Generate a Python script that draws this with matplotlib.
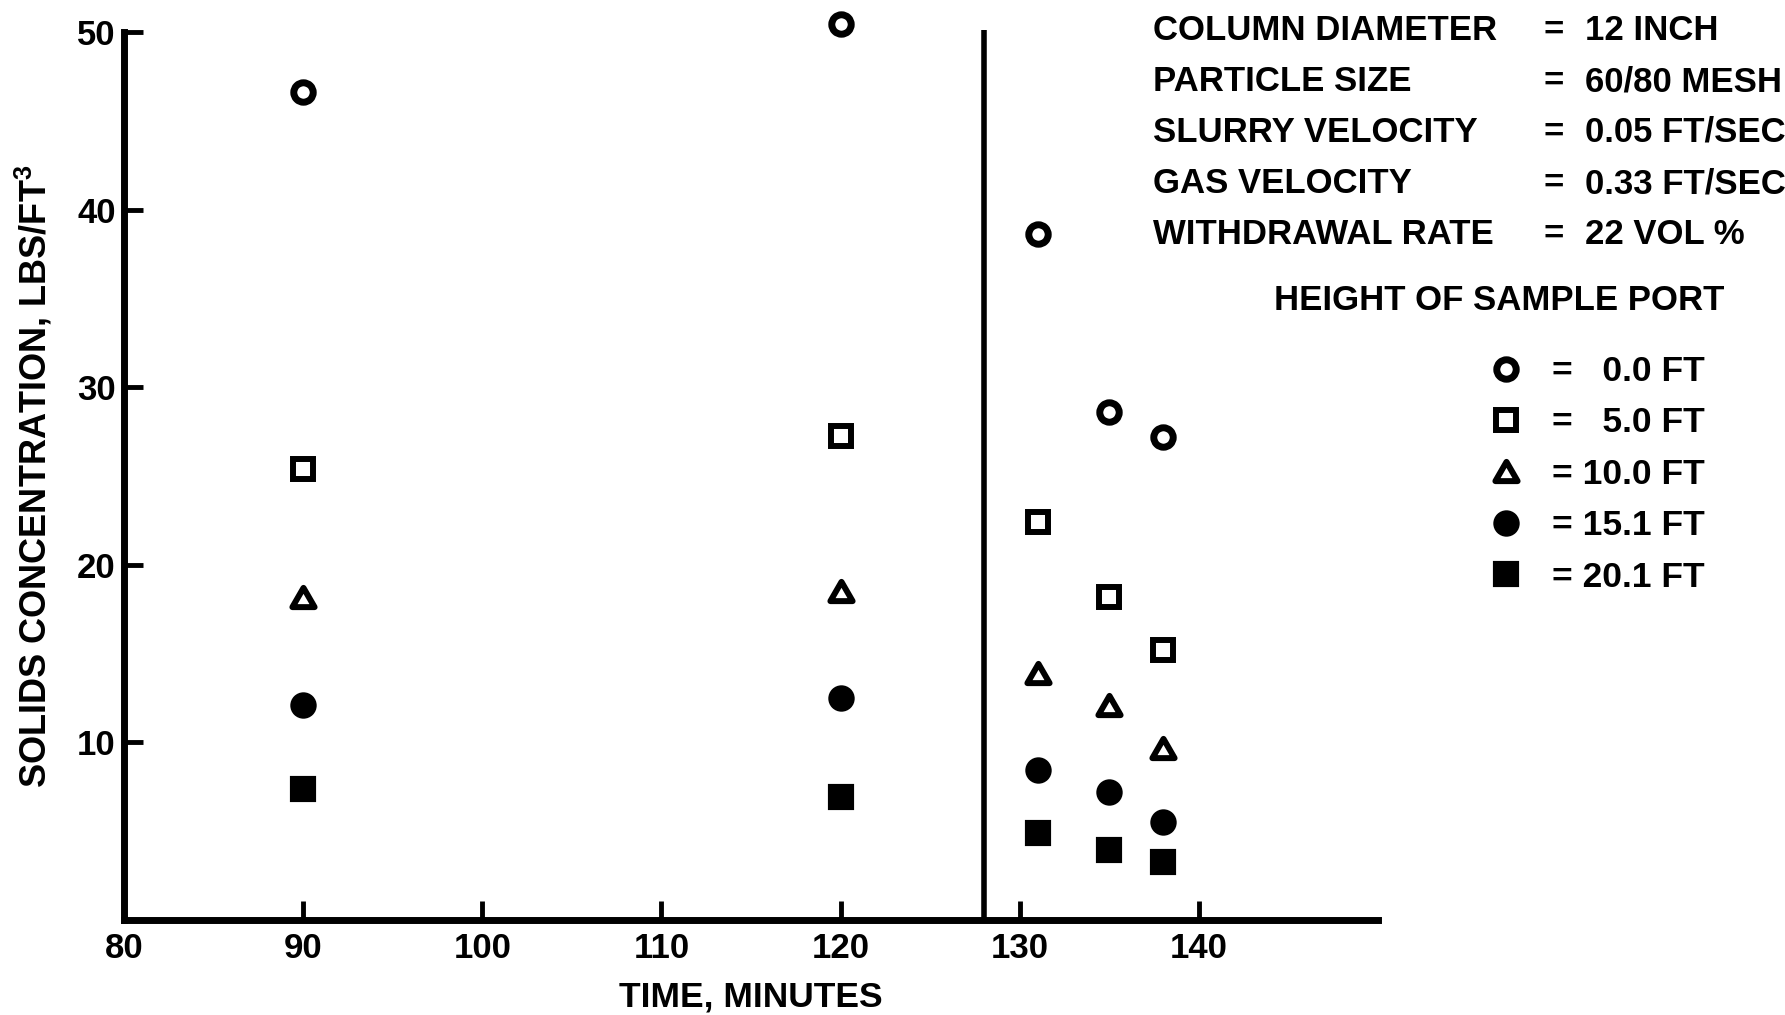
import matplotlib
matplotlib.use("Agg")
import matplotlib.pyplot as plt
from matplotlib.lines import Line2D
from matplotlib.markers import MarkerStyle
from matplotlib.path import Path

plt.rcParams["font.family"] = ["Liberation Sans", "DejaVu Sans"]
plt.rcParams["font.weight"] = "bold"
plt.rcParams["mathtext.fontset"] = "custom"
plt.rcParams["mathtext.rm"] = "Liberation Sans:bold"
plt.rcParams["mathtext.bf"] = "Liberation Sans:bold"

# sample times (minutes) and solids concentration (lbs/ft3) per sample port height
times = [90, 120, 131, 135, 138]
port_00 = [46.6, 50.45, 38.6, 28.6, 27.2]
port_05 = [25.4, 27.25, 22.4, 18.2, 15.2]
port_10 = [18.2, 18.5, 13.9, 12.1, 9.7]
port_15 = [12.1, 12.5, 8.45, 7.2, 5.5]
port_20 = [7.4, 6.9, 4.9, 3.95, 3.25]

port_labels = ["=   0.0 FT", "=   5.0 FT", "= 10.0 FT", "= 15.1 FT", "= 20.1 FT"]
divider_time = 128

x_ticks = [80, 90, 100, 110, 120, 130, 140]
y_ticks = [10, 20, 30, 40, 50]

conditions = [
    ("COLUMN DIAMETER", "12 INCH"),
    ("PARTICLE SIZE", "60/80 MESH"),
    ("SLURRY VELOCITY", "0.05 FT/SEC"),
    ("GAS VELOCITY", "0.33 FT/SEC"),
    ("WITHDRAWAL RATE", "22 VOL %"),
]

tri_path = Path([(-1, -0.866), (1, -0.866), (0, 0.866), (-1, -0.866)],
                [Path.MOVETO, Path.LINETO, Path.LINETO, Path.CLOSEPOLY])
tri = MarkerStyle(tri_path, joinstyle="round")
styles = [
    dict(marker="o", ms=14, mew=5.0, mfc="white"),
    dict(marker="s", ms=15, mew=4.3, mfc="white"),
    dict(marker=tri, ms=16, mew=4.3, mfc="white"),
    dict(marker="o", ms=16, mew=3.0, mfc="black"),
    dict(marker="s", ms=16, mew=3.0, mfc="black"),
]

W, H = 1785, 1015
fig = plt.figure(figsize=(W / 100, H / 100), dpi=100)
ax = fig.add_axes([124 / W, 1 - 920 / H, 1254 / W, 888 / H])

series = [port_00, port_05, port_10, port_15, port_20]
for vals, st in zip(series, styles):
    ax.plot(times, vals, linestyle="none", color="black", mec="black",
            clip_on=False, zorder=3, **st)

ax.vlines(divider_time, 0, 50.1, color="black", lw=4, clip_on=False)

ax.set_xlim(80, 150)
ax.set_ylim(0, 50)
ax.set_xticks(x_ticks)
ax.set_yticks(y_ticks)
for side in ["top", "right"]:
    ax.spines[side].set_visible(False)
for side in ["left", "bottom"]:
    ax.spines[side].set_linewidth(5)
    ax.spines[side].set_capstyle("projecting")
ax.tick_params(direction="in", length=14, width=3.5, labelsize=25)
ax.tick_params(axis="x", pad=9)
ax.tick_params(axis="y", pad=6)

ax.set_xlabel("TIME, MINUTES", fontsize=25.5, fontweight="bold", labelpad=11)
ax.set_ylabel(r"SOLIDS CONCENTRATION, LBS/FT$^{\mathbf{3}}$", fontsize=26,
              fontweight="bold", labelpad=16)

# operating conditions block
for i, (name, value) in enumerate(conditions):
    yb = 1 - (40 + 51 * i) / H
    fig.text(1153 / W, yb, name, fontsize=25, va="baseline", ha="left")
    fig.text(1554 / W, yb, "=", fontsize=25, va="baseline", ha="center")
    fig.text(1585 / W, yb, value, fontsize=25, va="baseline", ha="left")
fig.text(1499 / W, 1 - 310 / H, "HEIGHT OF SAMPLE PORT", fontsize=25,
         va="baseline", ha="center")

handles = [Line2D([], [], linestyle="none", color="black", mec="black", **st)
           for st in styles]
ax.legend(handles, port_labels, loc="upper left",
          bbox_to_anchor=(1488 / W, 1 - 355 / H), bbox_transform=fig.transFigure,
          frameon=False, fontsize=25.5, handlelength=1.0, handletextpad=0.8,
          labelspacing=0.52, borderpad=0, borderaxespad=0, numpoints=1)

fig.savefig("out.png", dpi=100)
